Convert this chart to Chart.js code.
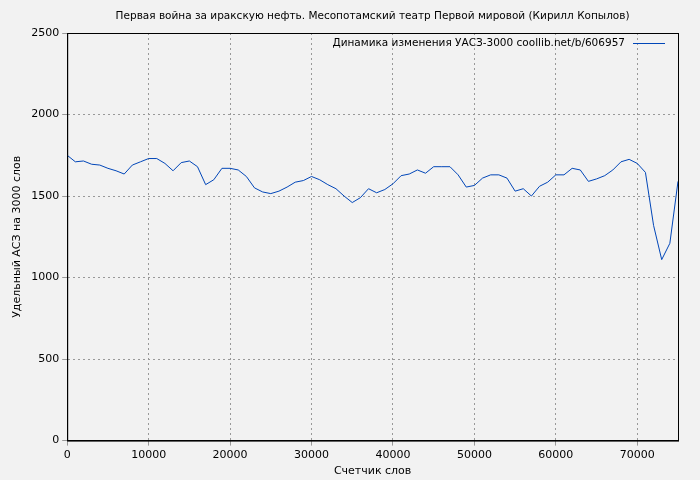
<!DOCTYPE html>
<html><head><meta charset="utf-8">
<script src="https://cdn.jsdelivr.net/npm/chart.js@4"></script>
<style>body{margin:0;background:#f2f2f2}</style>
</head><body><canvas id="c" width="700" height="480"></canvas>
<script>
// word counter positions and specific value
const wordCounts = [0,1000,2000,3000,4000,5000,6000,7000,8000,9000,10000,11000,12000,13000,14000,15000,16000,17000,18000,19000,20000,21000,22000,23000,24000,25000,26000,27000,28000,29000,30000,31000,32000,33000,34000,35000,36000,37000,38000,39000,40000,41000,42000,43000,44000,45000,46000,47000,48000,49000,50000,51000,52000,53000,54000,55000,56000,57000,58000,59000,60000,61000,62000,63000,64000,65000,66000,67000,68000,69000,70000,71000,72000,73000,74000,75000];
const uasz = [1750,1710,1715,1695,1690,1670,1655,1635,1690,1710,1730,1730,1700,1655,1705,1715,1680,1570,1600,1670,1670,1660,1620,1550,1525,1515,1530,1555,1585,1595,1620,1600,1570,1545,1500,1460,1490,1545,1520,1540,1575,1625,1635,1660,1640,1680,1680,1680,1630,1555,1565,1610,1630,1630,1610,1530,1545,1500,1560,1585,1630,1630,1670,1660,1590,1605,1625,1660,1710,1725,1700,1645,1320,1110,1210,1590];
const xTicks = [0,10000,20000,30000,40000,50000,60000,70000];
const yTicks = [0,500,1000,1500,2000,2500];
const points = wordCounts.map((x, i) => ({x: x, y: uasz[i]}));

const chartTitle = 'Первая война за иракскую нефть. Месопотамский театр Первой мировой (Кирилл Копылов)';
const font = {family: 'DejaVu Sans', size: 11};
const smallFont = '10.5px "DejaVu Sans"';

const bg = {
    id: 'bg',
    beforeDraw(chart) {
        const ctx = chart.ctx;
        ctx.save();
        ctx.fillStyle = '#f2f2f2';
        ctx.fillRect(0, 0, chart.width, chart.height);
        ctx.restore();
    }
};

// title centred over the plot, legend inside top-right (text then line sample)
const texts = {
    id: 'texts',
    afterDraw(chart) {
        const a = chart.chartArea, ctx = chart.ctx;
        const ds = chart.data.datasets[0];
        ctx.save();
        ctx.font = smallFont;
        ctx.fillStyle = '#000';
        ctx.textBaseline = 'middle';
        ctx.textAlign = 'center';
        ctx.fillText(chartTitle, (a.left + a.right) / 2, 16);
        ctx.textAlign = 'right';
        const y = a.top + 10;
        ctx.fillText(ds.label, a.right - 53, y);
        ctx.strokeStyle = ds.borderColor;
        ctx.lineWidth = 1;
        ctx.beginPath();
        ctx.moveTo(a.right - 45, y + 0.5);
        ctx.lineTo(a.right - 13, y + 0.5);
        ctx.stroke();
        ctx.restore();
    }
};

new Chart(document.getElementById('c'), {
    type: 'line',
    data: {
        datasets: [{
            label: 'Динамика изменения УАСЗ-3000 coollib.net/b/606957',
            data: points,
            borderColor: '#0046b8',
            borderWidth: 1,
            pointRadius: 0,
            tension: 0
        }]
    },
    options: {
        responsive: false,
        animation: false,
        layout: {padding: {top: 33, right: 22, left: 7, bottom: 2}},
        plugins: {
            title: {display: false},
            legend: {display: false},
            tooltip: {enabled: false}
        },
        scales: {
            x: {
                type: 'linear',
                min: 0, max: 75000,
                afterBuildTicks: s => { s.ticks = xTicks.map(v => ({value: v})); },
                ticks: {color: '#000', font: font, maxRotation: 0, autoSkip: false, callback: v => String(v)},
                grid: {color: '#999', tickLength: 5},
                border: {color: '#000', width: 1, dash: [2, 3]},
                title: {display: true, text: 'Счетчик слов', color: '#000', font: font, padding: 0}
            },
            y: {
                min: 0, max: 2500,
                afterBuildTicks: s => { s.ticks = yTicks.map(v => ({value: v})); },
                ticks: {color: '#000', font: font, callback: v => String(v)},
                grid: {color: '#999', tickLength: 5},
                border: {color: '#000', width: 1, dash: [2, 3]},
                title: {display: true, text: 'Удельный АСЗ на 3000 слов', color: '#000', font: font}
            }
        }
    },
    plugins: [bg, texts, {
        id: 'frame',
        afterDraw(chart) {
            const a = chart.chartArea, ctx = chart.ctx;
            ctx.save();
            ctx.strokeStyle = '#000';
            ctx.lineWidth = 1;
            ctx.strokeRect(a.left + 0.5, a.top + 0.5, a.right - a.left, a.bottom - a.top);
            ctx.restore();
        }
    }]
});
</script></body></html>
